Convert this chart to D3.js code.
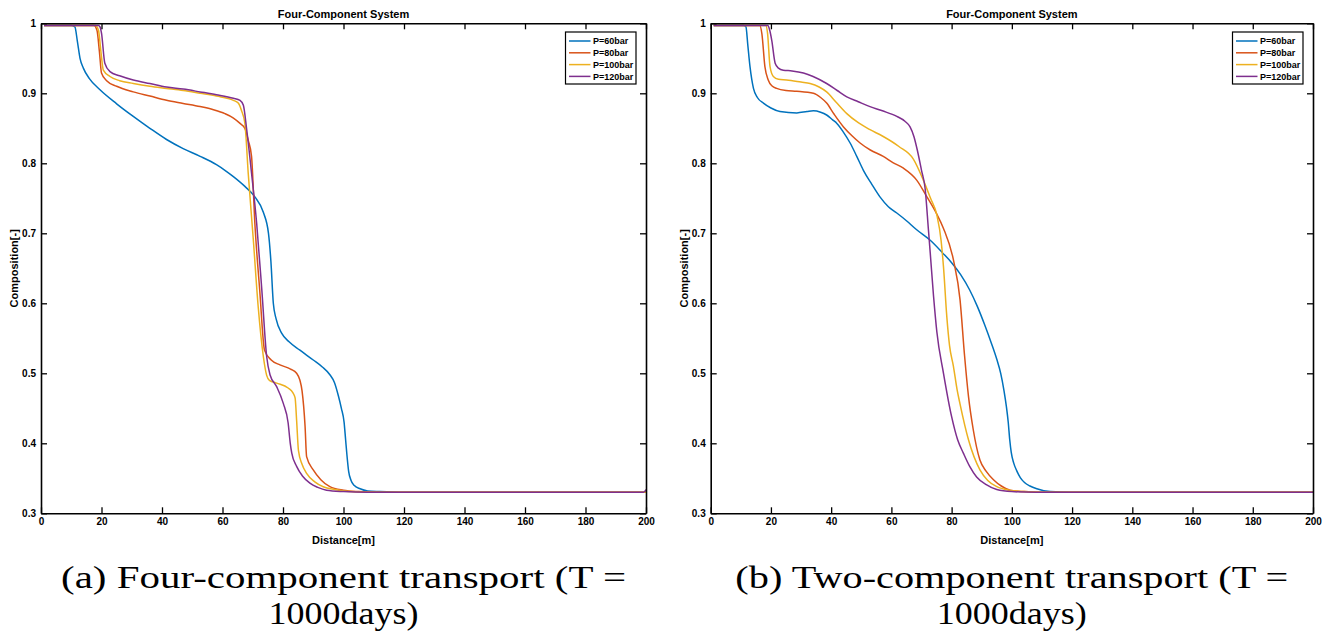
<!DOCTYPE html>
<html>
<head>
<meta charset="utf-8">
<script src="https://cdn.jsdelivr.net/npm/d3@7/dist/d3.min.js"></script>
<style>
  html, body { margin: 0; padding: 0; background: #fff; }
  svg { display: block; }
</style>
</head>
<body>
<svg id="chart" width="1331" height="634"></svg>
<script>
// ---------------- DATA ----------------
const seriesNames = ["P=60bar", "P=80bar", "P=100bar", "P=120bar"];
const seriesColors = ["#0072BD", "#D95319", "#EDB120", "#7E2F8E"];
const xTicks = [0, 20, 40, 60, 80, 100, 120, 140, 160, 180, 200];
const yTicks = [0.3, 0.4, 0.5, 0.6, 0.7, 0.8, 0.9, 1];
const yTickLabels = ["0.3", "0.4", "0.5", "0.6", "0.7", "0.8", "0.9", "1"];
const chartTitles = ["Four-Component System", "Four-Component System"];
const xLabel = "Distance[m]";
const yLabel = "Composition[-]";
const captionsA = ["(a) Four-component transport (T =", "1000days)"];
const captionsB = ["(b) Two-component transport (T =", "1000days)"];

// Panel (a): four-component transport
const a60 = [[1,0.997],[10,0.997],[11.2,0.995],[12,0.975],[12.9,0.95],[14,0.936],[16,0.921],[19.5,0.905],[25,0.885],[30.5,0.867],[36,0.85],[41.5,0.834],[47,0.821],[52.6,0.81],[58,0.798],[60.8,0.79],[63.6,0.781],[67.4,0.767],[70.7,0.752],[73.5,0.73],[75.2,0.70],[76,0.66],[76.8,0.60],[77.7,0.578],[79.6,0.557],[82,0.545],[85.6,0.533],[90,0.519],[93,0.509],[95.5,0.498],[97,0.487],[98.3,0.468],[99.3,0.45],[100.2,0.43],[100.7,0.405],[101.1,0.385],[101.7,0.36],[102.5,0.347],[103.5,0.34],[105.5,0.335],[108,0.332],[112,0.331],[120,0.33],[200,0.33]];
const a80 = [[1,0.997],[17.5,0.997],[18.5,0.99],[19.3,0.96],[20,0.929],[21.7,0.918],[25,0.91],[30.5,0.902],[36,0.896],[41.5,0.89],[47,0.8855],[52.6,0.881],[57,0.8765],[60.8,0.871],[63.5,0.865],[65.8,0.857],[67.4,0.85],[68.5,0.833],[69.6,0.81],[70.7,0.714],[72.3,0.619],[73.9,0.533],[76.1,0.519],[79,0.512],[82.5,0.506],[84.5,0.5],[85.6,0.49],[86.3,0.475],[87.3,0.424],[87.8,0.381],[90,0.362],[92.5,0.348],[95.5,0.338],[100,0.333],[105,0.331],[112,0.33],[200,0.33]];
const a100 = [[1,0.997],[18,0.997],[19,0.99],[19.8,0.96],[20.6,0.933],[22.8,0.924],[26,0.918],[30.5,0.914],[36,0.91],[41.5,0.907],[47,0.904],[52.6,0.9],[58,0.896],[63.6,0.89],[65.2,0.886],[66.3,0.875],[67.4,0.857],[68.5,0.786],[70.2,0.69],[71.8,0.595],[73.5,0.524],[74.6,0.497],[75.5,0.49],[77.9,0.486],[81.7,0.479],[83.3,0.472],[84,0.465],[84.5,0.433],[85.1,0.39],[86.3,0.37],[87.8,0.357],[90.5,0.345],[93.3,0.338],[97,0.334],[102,0.331],[110,0.33],[200,0.33]];
const a120 = [[1,0.997],[19,0.997],[19.5,0.995],[20,0.986],[21.1,0.943],[22.8,0.931],[26,0.925],[30.5,0.919],[36,0.914],[41.5,0.909],[47,0.906],[52.6,0.902],[58,0.898],[63.6,0.893],[65.8,0.89],[66.9,0.883],[68,0.848],[69.6,0.786],[71.3,0.714],[73,0.619],[74.6,0.524],[75.7,0.498],[77.9,0.481],[80.1,0.457],[81.7,0.429],[82.4,0.40],[82.9,0.386],[84.5,0.367],[86.5,0.353],[88.9,0.343],[91.5,0.337],[94.4,0.333],[100,0.331],[108,0.33],[199.2,0.33],[200,0.334]];

// Panel (b): two-component transport
const b60 = [[1,0.997],[11,0.997],[11.7,0.995],[12.3,0.97],[13.05,0.938],[14.2,0.907],[15.5,0.894],[17.5,0.886],[20,0.879],[23,0.874],[28.6,0.872],[32,0.874],[34.1,0.875],[36.5,0.873],[38.5,0.869],[40.5,0.862],[41.9,0.857],[44,0.845],[46.3,0.829],[48.5,0.81],[50.7,0.79],[53.5,0.77],[56.2,0.752],[59,0.738],[61.8,0.729],[65,0.718],[68.4,0.705],[72.9,0.69],[77,0.672],[80,0.658],[83,0.641],[86,0.619],[88.5,0.596],[91,0.569],[93.2,0.543],[95,0.52],[96.3,0.5],[97.4,0.475],[98.2,0.452],[98.8,0.43],[99.3,0.405],[99.8,0.387],[100.6,0.372],[101.6,0.361],[102.8,0.351],[104.2,0.344],[106,0.339],[108.3,0.335],[112.7,0.331],[120,0.33],[200,0.33]];
const b80 = [[1,0.997],[16.3,0.997],[17,0.985],[18,0.938],[19.1,0.919],[20.5,0.91],[21.9,0.907],[25,0.904],[28.6,0.903],[34.1,0.9],[36.5,0.894],[38.5,0.886],[41,0.87],[44.1,0.852],[47,0.839],[49.6,0.829],[53,0.819],[57.3,0.81],[60.5,0.801],[64,0.793],[68.4,0.776],[71.8,0.752],[75,0.728],[77.3,0.707],[80.6,0.662],[82.8,0.605],[84.3,0.525],[85.6,0.467],[87.2,0.419],[89.4,0.376],[91.5,0.36],[93.9,0.348],[96.5,0.339],[99.4,0.333],[104,0.331],[110,0.33],[200,0.33]];
const b100 = [[1,0.997],[18.3,0.997],[18.9,0.985],[19.7,0.938],[20.8,0.924],[22.5,0.92],[25.2,0.919],[30,0.916],[33,0.914],[36,0.909],[38.5,0.902],[41.5,0.888],[45.2,0.871],[49,0.858],[52.9,0.848],[57,0.839],[62.5,0.824],[67.3,0.806],[70.6,0.776],[73,0.75],[75.1,0.726],[76.5,0.69],[77.3,0.652],[78.4,0.581],[79.3,0.54],[80.6,0.51],[81.8,0.477],[82.8,0.456],[85.6,0.405],[89.4,0.362],[92,0.347],[95,0.338],[99,0.333],[104,0.331],[110,0.33],[200,0.33]];
const b120 = [[1,0.997],[19,0.997],[19.6,0.99],[20.3,0.975],[21.4,0.943],[22.5,0.936],[24.1,0.933],[27,0.932],[30.8,0.929],[34,0.924],[38.5,0.914],[42,0.904],[45.2,0.895],[49,0.888],[52.9,0.881],[57,0.875],[61.8,0.867],[64.5,0.86],[66.2,0.852],[67.5,0.838],[68.6,0.819],[70,0.79],[71.2,0.764],[72.3,0.705],[72.9,0.672],[74,0.61],[75.1,0.559],[77.3,0.5],[80,0.438],[82,0.405],[83.9,0.386],[86,0.367],[88.3,0.352],[91.5,0.341],[95,0.334],[100,0.331],[108,0.33],[200,0.33]];

const panelA = [a60, a80, a100, a120];
const panelB = [b60, b80, b100, b120];

// ---------------- LAYOUT ----------------
const svg = d3.select("#chart");
const panels = [
  { data: panelA, left: 41, right: 646, title: chartTitles[0], caption: captionsA, capW: [565, 150] },
  { data: panelB, left: 710.7, right: 1313, title: chartTitles[1], caption: captionsB, capW: [553, 150] }
];
const plotTop = 23.3, plotBottom = 513.3;
const sans = "'Liberation Sans', Arial, Helvetica, sans-serif";
const serif = "'Liberation Serif', 'Times New Roman', serif";

panels.forEach((p, pi) => {
  const x = d3.scaleLinear().domain([0, 200]).range([p.left, p.right]);
  const y = d3.scaleLinear().domain([0.3, 1]).range([plotBottom, plotTop]);
  const g = svg.append("g");
  const cx = (p.left + p.right) / 2;

  // lines
  const line = d3.line().x(d => x(d[0])).y(d => y(d[1])).curve(d3.curveMonotoneX);
  const clipId = "clip" + pi;
  svg.append("clipPath").attr("id", clipId).append("rect")
    .attr("x", p.left).attr("y", plotTop - 2).attr("width", p.right - p.left + 1).attr("height", plotBottom - plotTop + 2);
  g.append("g").attr("clip-path", `url(#${clipId})`)
    .selectAll("path").data(p.data).join("path")
    .attr("d", line)
    .attr("fill", "none")
    .attr("stroke", (d, i) => seriesColors[i])
    .attr("stroke-width", 1.5)
    .attr("stroke-linejoin", "round");

  // axes
  const axStyle = sel => {
    sel.selectAll("path").attr("stroke", "#000").attr("stroke-width", 1.6);
    sel.selectAll("line").attr("stroke", "#000").attr("stroke-width", 1.3);
    sel.selectAll("text").attr("font-family", sans).attr("font-weight", "bold")
      .attr("font-size", 10).attr("fill", "#000");
  };
  g.append("g").attr("transform", `translate(0,${plotBottom})`)
    .call(d3.axisBottom(x).tickValues(xTicks).tickSizeInner(-6).tickSizeOuter(0).tickPadding(5))
    .call(axStyle);
  g.append("g").attr("transform", `translate(0,${plotTop})`)
    .call(d3.axisTop(x).tickValues(xTicks).tickSizeInner(-6).tickSizeOuter(0).tickFormat(""))
    .call(axStyle);
  g.append("g").attr("transform", `translate(${p.left},0)`)
    .call(d3.axisLeft(y).tickValues(yTicks).tickSizeInner(-6).tickSizeOuter(0).tickPadding(5)
      .tickFormat((d, i) => yTickLabels[i]))
    .call(axStyle);
  g.append("g").attr("transform", `translate(${p.right},0)`)
    .call(d3.axisRight(y).tickValues(yTicks).tickSizeInner(-6).tickSizeOuter(0).tickFormat(""))
    .call(axStyle);

  // title and axis labels
  g.append("text").attr("x", cx).attr("y", 18).attr("text-anchor", "middle")
    .attr("font-family", sans).attr("font-weight", "bold").attr("font-size", 11).text(p.title);
  g.append("text").attr("x", cx).attr("y", 544).attr("text-anchor", "middle")
    .attr("font-family", sans).attr("font-weight", "bold").attr("font-size", 11).text(xLabel);
  g.append("text").attr("transform", `translate(${p.left - 23},${(plotTop + plotBottom) / 2}) rotate(-90)`)
    .attr("text-anchor", "middle")
    .attr("font-family", sans).attr("font-weight", "bold").attr("font-size", 11).text(yLabel);

  // legend
  const lx = p.right - 80.5, ly = 32, lw = 70.5, lh = 52;
  const lg = g.append("g");
  lg.append("rect").attr("x", lx).attr("y", ly).attr("width", lw).attr("height", lh)
    .attr("fill", "#fff").attr("stroke", "#000").attr("stroke-width", 1.2);
  seriesNames.forEach((name, i) => {
    const ry = ly + 9 + i * 11.8;
    lg.append("line").attr("x1", lx + 3.5).attr("x2", lx + 25).attr("y1", ry).attr("y2", ry)
      .attr("stroke", seriesColors[i]).attr("stroke-width", 1.5);
    lg.append("text").attr("x", lx + 27.5).attr("y", ry + 3.3)
      .attr("font-family", sans).attr("font-weight", "bold").attr("font-size", 9).text(name);
  });

  // caption
  const capY = [588, 624];
  p.caption.forEach((t, i) => {
    g.append("text").attr("x", cx).attr("y", capY[i]).attr("text-anchor", "middle")
      .attr("font-family", serif).attr("font-size", 31)
      .attr("textLength", p.capW[i]).attr("lengthAdjust", "spacingAndGlyphs")
      .text(t);
  });
});
</script>
</body>
</html>
